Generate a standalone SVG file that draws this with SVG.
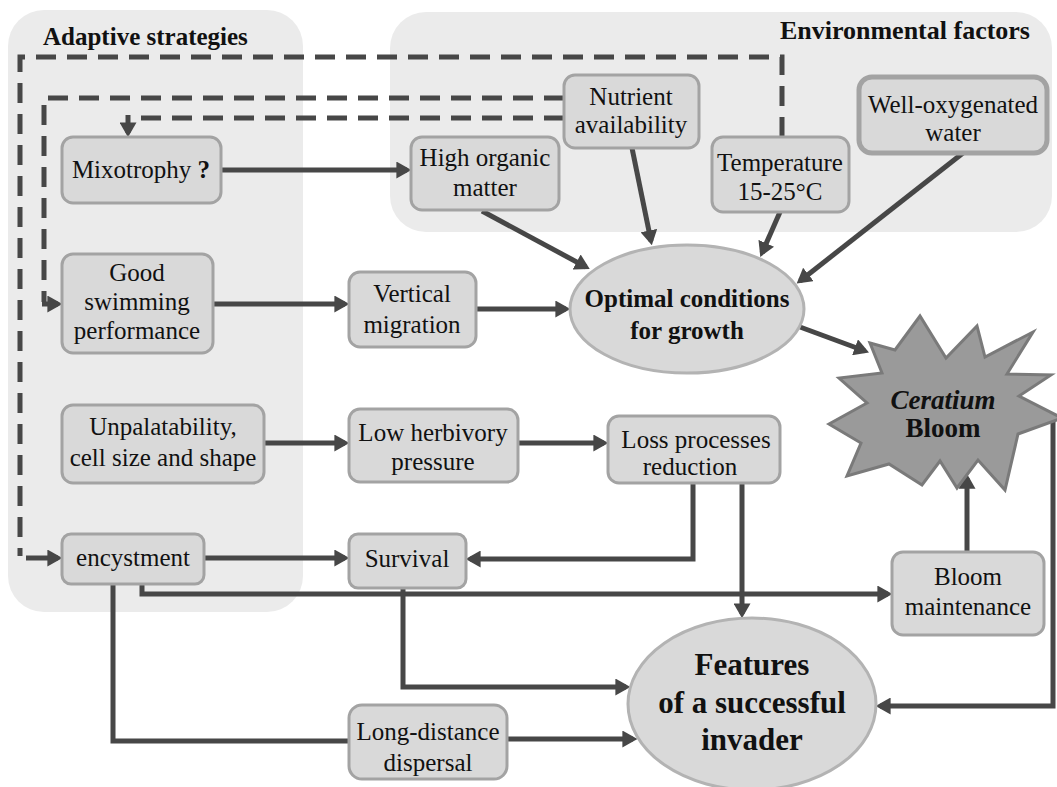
<svg xmlns="http://www.w3.org/2000/svg" width="1057" height="787" viewBox="0 0 1057 787">
<defs>
<marker id="ah" viewBox="0 0 14 16" refX="10" refY="8" markerWidth="15" markerHeight="17" markerUnits="userSpaceOnUse" orient="auto">
<path d="M0,0 L14,8 L0,16 z" fill="#474747"/>
</marker>
<style>
.panel{fill:#ebebeb;}
.box{fill:#d9d9d9;stroke:#a3a3a3;stroke-width:3;}
.ell{fill:#d9d9d9;stroke:#b3b3b3;stroke-width:3;}
.t{font-size:25px;fill:#111;text-anchor:middle;}
.b{font-weight:bold;}
.title{font-size:25px;font-weight:bold;fill:#111;}
.ln{fill:none;stroke:#474747;stroke-width:5;}
.dash{fill:none;stroke:#474747;stroke-width:5;stroke-dasharray:20 11;}
</style>
</defs>
<g font-family="Liberation Serif, DejaVu Serif, Times New Roman, serif">
<g id="panels">
<rect class="panel" x="8" y="10" width="295" height="602" rx="36"/>
<rect class="panel" x="390" y="12" width="662" height="220" rx="36"/>
<text class="title" x="43" y="45">Adaptive strategies</text>
<text class="title" x="1030" y="39" text-anchor="end" style="font-size:26px">Environmental factors</text>
</g>

<g id="connectors">
<path class="dash" d="M782,137 V57 H20 V556"/>
<path class="ln" d="M26,558 H58" marker-end="url(#ah)"/>
<path class="dash" d="M564,98 H44 V302"/>
<path class="ln" d="M42,304 H58" marker-end="url(#ah)"/>
<path class="dash" d="M564,118 H131"/>
<path class="ln" d="M128,115 V133" marker-end="url(#ah)"/>
<path class="ln" d="M221,170 H407" marker-end="url(#ah)"/>
<path class="ln" d="M482,211 L586,267" marker-end="url(#ah)"/>
<path class="ln" d="M632,148 L651,241" marker-end="url(#ah)"/>
<path class="ln" d="M780,212 L762,253" marker-end="url(#ah)"/>
<path class="ln" d="M963,153 L800,281" marker-end="url(#ah)"/>
<path class="ln" d="M213,304 H345" marker-end="url(#ah)"/>
<path class="ln" d="M476,309 H566" marker-end="url(#ah)"/>
<path class="ln" d="M800,327 L865,351" marker-end="url(#ah)"/>
<path class="ln" d="M264,443 H345" marker-end="url(#ah)"/>
<path class="ln" d="M518,443 H604" marker-end="url(#ah)"/>
<path class="ln" d="M204,558 H345" marker-end="url(#ah)"/>
<path class="ln" d="M693,483 V559 H470" marker-end="url(#ah)"/>
<path class="ln" d="M742,483 V614" marker-end="url(#ah)"/>
<path class="ln" d="M142,584 V594 H888" marker-end="url(#ah)"/>
<path class="ln" d="M113,584 V741 H349"/>
<path class="ln" d="M507,739 H633" marker-end="url(#ah)"/>
<path class="ln" d="M403,588 V687 H626" marker-end="url(#ah)"/>
<path class="ln" d="M967,552 V478" marker-end="url(#ah)"/>
<path class="ln" d="M1053,420 V706 H880" marker-end="url(#ah)"/>
</g>

<g id="mixotrophy">
<rect class="box" x="62" y="137" width="159" height="66" rx="11"/>
<text class="t" x="141" y="178">Mixotrophy <tspan class="b">?</tspan></text>
</g>
<g id="high-organic">
<rect class="box" x="411" y="137" width="148" height="73" rx="11"/>
<text class="t" x="485" y="166">High organic</text>
<text class="t" x="485" y="196">matter</text>
</g>
<g id="nutrient">
<rect class="box" x="564" y="75" width="135" height="73" rx="11"/>
<text class="t" x="631" y="105">Nutrient</text>
<text class="t" x="631" y="133">availability</text>
</g>
<g id="temperature">
<rect class="box" x="712" y="137" width="137" height="75" rx="11"/>
<text class="t" x="780" y="171">Temperature</text>
<text class="t" x="780" y="200">15-25°C</text>
</g>
<g id="oxygen">
<rect class="box" x="859" y="77" width="188" height="76" rx="13" style="stroke-width:5"/>
<text class="t" x="953" y="113">Well-oxygenated</text>
<text class="t" x="953" y="141">water</text>
</g>
<g id="swimming">
<rect class="box" x="62" y="254" width="151" height="99" rx="11"/>
<text class="t" x="137" y="281">Good</text>
<text class="t" x="137" y="310">swimming</text>
<text class="t" x="137" y="339">performance</text>
</g>
<g id="vertical">
<rect class="box" x="349" y="272" width="127" height="75" rx="11"/>
<text class="t" x="412" y="302">Vertical</text>
<text class="t" x="412" y="333">migration</text>
</g>
<g id="optimal">
<ellipse class="ell" cx="687" cy="309" rx="117" ry="64"/>
<text class="t b" x="687" y="307">Optimal conditions</text>
<text class="t b" x="687" y="339">for growth</text>
</g>
<g id="bloom">
<polygon points="870,343 895,350 920,316 946,358 977,326 985,357 1033,332 1007,374 1051,375 1019,396 1062,418 1018,434 1005,490 978,460 957,488 940,461 922,485 889,464 847,476 861,443 829,424 867,403 839,378 882,373" fill="#9a9a9a" stroke="#7a7a7a" stroke-width="3" stroke-linejoin="miter"/>
<text class="t b" x="943" y="409" style="font-size:27px;font-style:italic">Ceratium</text>
<text class="t b" x="943" y="437" style="font-size:27px">Bloom</text>
</g>
<g id="unpalatability">
<rect class="box" x="62" y="405" width="202" height="78" rx="11"/>
<text class="t" x="163" y="435">Unpalatability,</text>
<text class="t" x="163" y="466">cell size and shape</text>
</g>
<g id="herbivory">
<rect class="box" x="349" y="409" width="169" height="73" rx="11"/>
<text class="t" x="433" y="441">Low herbivory</text>
<text class="t" x="433" y="470">pressure</text>
</g>
<g id="loss">
<rect class="box" x="608" y="416" width="172" height="67" rx="11"/>
<text class="t" x="696" y="448">Loss processes</text>
<text class="t" x="690" y="475">reduction</text>
</g>
<g id="encystment">
<rect class="box" x="62" y="534" width="142" height="50" rx="9"/>
<text class="t" x="133" y="566">encystment</text>
</g>
<g id="survival">
<rect class="box" x="349" y="534" width="117" height="54" rx="9"/>
<text class="t" x="407" y="567">Survival</text>
</g>
<g id="maintenance">
<rect class="box" x="892" y="552" width="152" height="83" rx="11"/>
<text class="t" x="968" y="585">Bloom</text>
<text class="t" x="968" y="615">maintenance</text>
</g>
<g id="dispersal">
<rect class="box" x="349" y="705" width="158" height="74" rx="13"/>
<text class="t" x="428" y="740">Long-distance</text>
<text class="t" x="428" y="771">dispersal</text>
</g>
<g id="features">
<ellipse class="ell" cx="752" cy="704" rx="124" ry="86"/>
<text class="t b" x="752" y="675" style="font-size:31px">Features</text>
<text class="t b" x="752" y="713" style="font-size:31px">of a successful</text>
<text class="t b" x="752" y="750" style="font-size:31px">invader</text>
</g>
</g>
</svg>
